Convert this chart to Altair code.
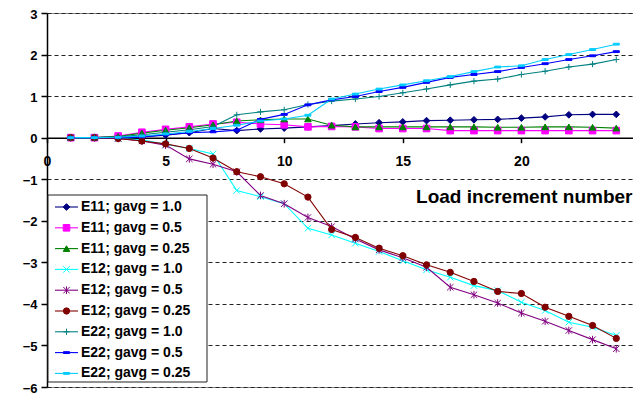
import altair as alt
import pandas as pd

# ---------------- data ----------------
load_increment = list(range(1, 25))

series_names = [
    "E11; gavg = 1.0", "E11; gavg = 0.5", "E11; gavg = 0.25",
    "E12; gavg = 1.0", "E12; gavg = 0.5", "E12; gavg = 0.25",
    "E22; gavg = 1.0", "E22; gavg = 0.5", "E22; gavg = 0.25",
]

e11_g10 = [0, 0, 0, 0.02, 0.06, 0.12, 0.22, 0.17, 0.21, 0.23, 0.26, 0.29,
           0.33, 0.36, 0.38, 0.41, 0.42, 0.43, 0.44, 0.47, 0.50, 0.55, 0.56, 0.56]
e11_g05 = [0, 0, 0.04, 0.13, 0.20, 0.26, 0.33, 0.37, 0.33, 0.31, 0.26, 0.27,
           0.26, 0.22, 0.22, 0.22, 0.17, 0.17, 0.17, 0.17, 0.17, 0.17, 0.17, 0.17]
e11_g025 = [0, 0, 0.03, 0.11, 0.18, 0.24, 0.31, 0.40, 0.43, 0.45, 0.45, 0.30,
            0.26, 0.26, 0.26, 0.26, 0.26, 0.26, 0.25, 0.25, 0.26, 0.26, 0.25, 0.23]
e12_g10 = [0, 0, -0.02, -0.05, -0.16, -0.26, -0.39, -1.27, -1.42, -1.59, -2.18, -2.34,
           -2.54, -2.74, -2.96, -3.18, -3.36, -3.56, -3.68, -3.96, -4.16, -4.44, -4.56, -4.76]
e12_g05 = [0, 0, -0.02, -0.08, -0.18, -0.51, -0.64, -0.82, -1.39, -1.59, -1.92, -2.14,
           -2.44, -2.70, -2.89, -3.12, -3.60, -3.78, -3.98, -4.22, -4.42, -4.64, -4.86, -5.08]
e12_g025 = [0, 0, -0.02, -0.08, -0.15, -0.26, -0.49, -0.82, -0.94, -1.11, -1.43, -2.21,
            -2.40, -2.66, -2.84, -3.06, -3.24, -3.46, -3.70, -3.75, -4.08, -4.30, -4.52, -4.83]
e22_g10 = [0, 0, 0.02, 0.07, 0.13, 0.19, 0.27, 0.55, 0.62, 0.67, 0.80, 0.88,
           0.93, 0.99, 1.08, 1.17, 1.27, 1.36, 1.41, 1.52, 1.60, 1.70, 1.77, 1.88]
e22_g05 = [0, 0, 0, 0.02, 0.07, 0.12, 0.14, 0.18, 0.44, 0.56, 0.79, 0.91,
           0.99, 1.11, 1.21, 1.33, 1.45, 1.52, 1.59, 1.69, 1.78, 1.88, 1.97, 2.07]
e22_g025 = [0, 0, 0.01, 0.04, 0.09, 0.15, 0.22, 0.30, 0.40, 0.45, 0.54, 0.93,
            1.05, 1.17, 1.27, 1.37, 1.47, 1.59, 1.70, 1.73, 1.88, 2.00, 2.12, 2.25]

all_series = [e11_g10, e11_g05, e11_g025, e12_g10, e12_g05, e12_g025,
              e22_g10, e22_g05, e22_g025]

x_ticks = [0, 5, 10, 15, 20, 25]
y_ticks = [-6, -5, -4, -3, -2, -1, 0, 1, 2, 3]

# ---------------- styles ----------------
colors = ["#000080", "#FF00FF", "#008000", "#00FFFF", "#800080",
          "#800000", "#008080", "#0000FF", "#00CCFF"]
x_path = "M-1,-1L1,1M-1,1L1,-1"
star_path = "M-1,-1L1,1M-1,1L1,-1M0,-1.2L0,1.2"
plus_path = "M-1,0L1,0M0,-1L0,1"
dash_path = "M-1,-0.3L1,-0.3L1,0.3L-1,0.3Z"
shapes = ["diamond", "square", "triangle-up", x_path, star_path,
          "circle", plus_path, dash_path, dash_path]
sizes = [45, 36, 40, 36, 42, 40, 49, 25, 49]

FONT = "Liberation Sans"
PX_PER_UNIT = 23.72          # horizontal scale of the reference
W, H = 586, 374              # plot area (page is only 625px wide inside margins)
X_MAX = W / PX_PER_UNIT      # right edge of the visible plot (cut like the reference)

rows = []
for name, vals in zip(series_names, all_series):
    for xv, yv in zip(load_increment, vals):
        rows.append({"series": name, "x": xv, "v": yv})
df = pd.DataFrame(rows)

color_scale = alt.Scale(domain=series_names, range=colors)
shape_scale = alt.Scale(domain=series_names, range=shapes)
size_scale = alt.Scale(domain=series_names, range=sizes)

x_enc = alt.X(
    "x:Q",
    scale=alt.Scale(domain=[0, X_MAX], nice=False, zero=False),
    axis=alt.Axis(
        values=x_ticks, grid=False, offset=-H * 6 / 9,
        domainColor="black", domainWidth=1.5,
        tickColor="black", tickWidth=1.5, tickSize=5,
        labelFont=FONT, labelFontWeight="bold", labelFontSize=14,
        labelColor="black", labelPadding=12, labelFlush=False,
        title="Load increment number", titleFont=FONT, titleFontWeight="bold",
        titleFontSize=19, titleColor="black", titleAlign="right",
        titleBaseline="alphabetic", titleX=W - 1, titleY=65,
    ),
)
y_enc = alt.Y(
    "v:Q",
    scale=alt.Scale(domain=[-6, 3], nice=False, zero=False),
    axis=alt.Axis(
        values=y_ticks, format="d", grid=True, gridDash=[4, 3],
        gridColor="#222222", gridWidth=1,
        domainColor="black", domainWidth=1.5,
        tickColor="black", tickWidth=1.5, tickSize=6,
        labelFont=FONT, labelFontWeight="bold", labelFontSize=13,
        labelColor="black", labelPadding=4, labelOffset=1, title=None,
    ),
)

base = alt.Chart(df)
lines = base.mark_line(strokeWidth=1.1).encode(
    x=x_enc, y=y_enc,
    color=alt.Color("series:N", scale=color_scale, legend=None),
)
points = base.mark_point(filled=True, opacity=1, strokeWidth=1).encode(
    x=x_enc, y=y_enc,
    fill=alt.Fill("series:N", scale=color_scale, legend=None),
    stroke=alt.Stroke("series:N", scale=color_scale, legend=None),
    shape=alt.Shape("series:N", scale=shape_scale, legend=None),
    size=alt.Size("series:N", scale=size_scale, legend=None),
)

# ---------------- legend (drawn inside plot) ----------------
leg_top, leg_step = 194, 20.8
leg_df = pd.DataFrame({
    "series": series_names,
    "ly": [leg_top + i * leg_step for i in range(len(series_names))],
})
leg_y = alt.Y("ly:Q", scale=None, axis=None)

box = alt.Chart(pd.DataFrame({"a": [0]})).mark_rect(
    fill="white", stroke="#222222", strokeWidth=1
).encode(x=alt.value(1), x2=alt.value(160), y=alt.value(182), y2=alt.value(369))

leg_lines = alt.Chart(leg_df).mark_rule(strokeWidth=1.1).encode(
    x=alt.value(8), x2=alt.value(31), y=leg_y,
    color=alt.Color("series:N", scale=color_scale, legend=None),
)
leg_pts = alt.Chart(leg_df).mark_point(filled=True, opacity=1, strokeWidth=1).encode(
    x=alt.value(19.5), y=leg_y,
    fill=alt.Fill("series:N", scale=color_scale, legend=None),
    stroke=alt.Stroke("series:N", scale=color_scale, legend=None),
    shape=alt.Shape("series:N", scale=shape_scale, legend=None),
    size=alt.Size("series:N", scale=size_scale, legend=None),
)
leg_text = alt.Chart(leg_df).mark_text(
    align="left", baseline="middle", font=FONT, fontSize=14,
    fontWeight="bold", color="black",
).encode(x=alt.value(34), y=leg_y, text="series:N")

chart = alt.layer(lines, points, box, leg_lines, leg_pts, leg_text).properties(
    width=W, height=H,
    autosize=alt.AutoSizeParams(type="none"),
    padding={"left": 39, "top": 5, "right": 0, "bottom": 7},
    background="white",
).configure_view(stroke="#888888", strokeWidth=1)

chart.save("out.html", embed_options={"renderer": "svg", "actions": False})
